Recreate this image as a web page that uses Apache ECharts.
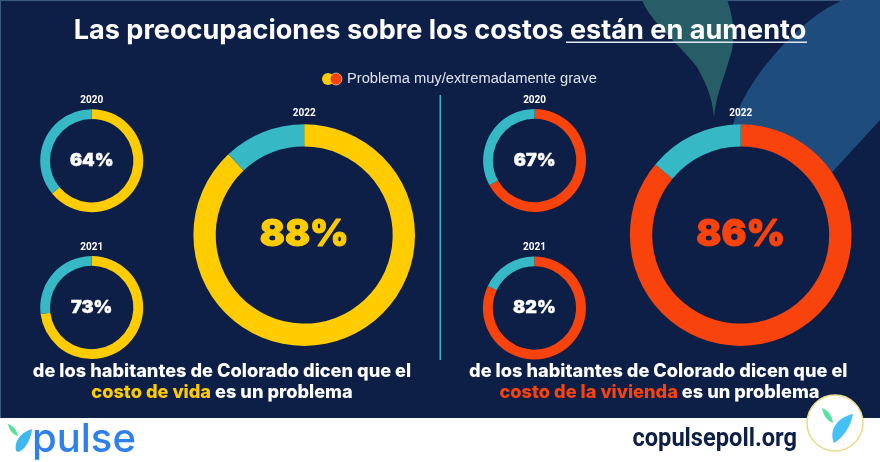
<!DOCTYPE html>
<html>
<head>
<meta charset="utf-8">
<script src="https://cdn.jsdelivr.net/npm/echarts@6/dist/echarts.min.js"></script>
<style>html,body{margin:0;padding:0;background:#fff}#chart{width:880px;height:462px}</style>
</head>
<body>
<div id="chart"></div>
<script>
// values
const years = ['2020', '2021', '2022'];
const costoDeVida = [64, 73, 88];
const costoDeVivienda = [67, 82, 86];

const NAVY = '#0d1f47';
const TEAL = '#36b8c5';
const YELLOW = '#ffcc00';
const ORANGE = '#f9430d';
const FONT = 'Inter';

// ring positions: small 2020, small 2021, large 2022
const leftRings = [[91.7, 160.7, 51.5, 41.7], [91.7, 307.5, 51.5, 41.7], [304.2, 235.1, 110.8, 88.5]];
const rightRings = [[534.6, 160.5, 51.5, 41.7], [534.4, 308, 51.5, 41.7], [740.7, 235.1, 110.8, 88.5]];

function ringSeries(values, rings, color) {
	return values.map(function (v, i) {
		const big = i === 2;
		return {
			type: 'pie',
			silent: true,
			animation: false,
			startAngle: 90,
			center: [rings[i][0], rings[i][1]],
			radius: [rings[i][3], rings[i][2]],
			labelLine: { show: false },
			data: [
				{
					value: v,
					name: years[i],
					itemStyle: { color: color },
					label: {
						show: true,
						position: 'center',
						formatter: '{c}%',
						color: big ? color : '#ffffff',
						fontFamily: FONT,
						fontWeight: 900,
						fontSize: big ? 37 : 18,
						textBorderColor: big ? color : '#ffffff',
						textBorderWidth: big ? 1 : 0.4
					}
				},
				{ value: 100 - v, name: 'resto', itemStyle: { color: TEAL }, label: { show: false } }
			]
		};
	});
}

function text(x, y, str, size, weight, color, family, align) {
	return {
		type: 'text',
		z: 10,
		x: x,
		y: y,
		silent: true,
		style: {
			text: str,
			fontSize: size,
			fontWeight: weight,
			fontFamily: family || FONT,
			fill: color || '#ffffff',
			align: align || 'center',
			verticalAlign: 'middle'
		}
	};
}

function yearLabels(rings) {
	return rings.map(function (r, i) {
		return text(r[0], r[1] - r[2] - (i === 2 ? 11 : 9), years[i], 10, 'bold', '#ffffff', 'Roboto');
	});
}

// second line of the captions: coloured part + white part
function caption(x, y, first, second, color) {
	return {
		type: 'text',
		z: 10,
		x: x,
		y: y,
		silent: true,
		style: {
			text: '{a|' + first + '}{b| ' + second + '}',
			align: 'center',
			verticalAlign: 'middle',
			rich: {
				a: { fill: color, color: color, fontFamily: FONT, fontWeight: 800, fontSize: 18.2 },
				b: { fill: '#ffffff', color: '#ffffff', fontFamily: FONT, fontWeight: 800, fontSize: 18.2 }
			}
		}
	};
}

function rect(x, y, w, h, color, z) {
	return { type: 'rect', z: z, silent: true, shape: { x: x, y: y, width: w, height: h }, style: { fill: color } };
}

// the graphic component has no 'path' type, so each free shape gets registered
let leafCount = 0;
function leaf(path, color, z) {
	const name = 'leaf' + (leafCount++);
	echarts.graphic.registerShape(name, echarts.graphic.extendPath(path));
	return { type: name, z: z, silent: true, style: { fill: color } };
}

const backdrop = [
	rect(0, 0, 880, 418, NAVY, -10),
	rect(0, 0, 880, 1, '#3a5a80', -9),
	rect(0, 0, 1, 418, '#3a5a80', -9),
	leaf('M642 0 L727 0 C735 20 735 45 730 57 C725 75 716 95 714 117 C712 95 705 82 697 67 C685 50 650 22 642 0 Z', '#265d66', -9),
	leaf('M843 0 C800 18 745 80 733 125 L760 127 L800 147 L825 180 L880 120 L880 0 Z', '#1e4c7c', -9)
];

const foreground = [
	text(440, 31, 'Las preocupaciones sobre los costos están en aumento', 27.1, 700),
	rect(566, 41.5, 241, 1.5, '#dfe8f2', 10),

	// legend swatch
	{ type: 'circle', z: 10, silent: true, shape: { cx: 328, cy: 79, r: 6 }, style: { fill: YELLOW } },
	{ type: 'circle', z: 10, silent: true, shape: { cx: 336, cy: 79, r: 6 }, style: { fill: ORANGE, stroke: '#ffe9b0', lineWidth: 0.6 } },
	text(347, 79, 'Problema muy/extremadamente grave', 14.7, 'normal', '#dfe3ea', 'Liberation Sans', 'left'),

	// divider
	rect(439.5, 95, 1.5, 265, TEAL, 10),

	text(222, 371.5, 'de los habitantes de Colorado dicen que el', 18.2, 800),
	caption(222, 393, 'costo de vida', 'es un problema', YELLOW),
	text(658.3, 371.5, 'de los habitantes de Colorado dicen que el', 18.2, 800),
	caption(659.5, 393, 'costo de la vivienda', 'es un problema', ORANGE),

	// footer
	rect(0, 418, 880, 44, '#ffffff', 10),
	leaf('M8 424 C13 425 17 430 18 436 C13 435 9 430 8 424 Z', '#5ee0a0', 11),
	leaf('M16 451 C14 443 19 433 32 429 C31 440 25 449 19 452 Z', '#3fb8f0', 11),
	text(32, 440, 'pulse', 40, 500, '#2f80ed', 'Inter', 'left'),
	Object.assign(text(797, 440, 'copulsepoll.org', 25, 'bold', NAVY, 'Roboto', 'right'), { scaleX: 0.945 }),
	{ type: 'circle', z: 12, silent: true, shape: { cx: 835, cy: 423, r: 28 }, style: { fill: '#ffffff', stroke: '#e8dc8c', lineWidth: 1.5 } },
	leaf('M822 408 C828 410 832 415 833 423 C827 421 823 415 822 408 Z', '#5ee0a0', 13),
	leaf('M834 443 C829 432 835 418 853 414 C851 426 843 438 834 443 Z', '#45c1f5', 13)
];

const chart = echarts.init(document.getElementById('chart'));
chart.setOption({
	backgroundColor: '#ffffff',
	graphic: { elements: backdrop.concat(foreground, yearLabels(leftRings), yearLabels(rightRings)) },
	series: ringSeries(costoDeVida, leftRings, YELLOW).concat(ringSeries(costoDeVivienda, rightRings, ORANGE))
});
</script>
</body>
</html>
